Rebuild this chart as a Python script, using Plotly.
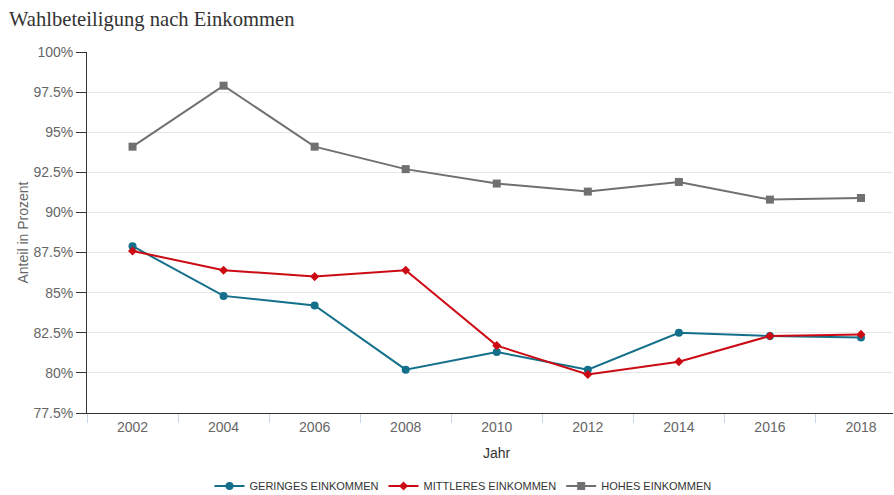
import plotly.graph_objects as go

years = [2002, 2004, 2006, 2008, 2010, 2012, 2014, 2016, 2018]
geringes = [87.9, 84.8, 84.2, 80.2, 81.3, 80.2, 82.5, 82.3, 82.2]
mittleres = [87.6, 86.4, 86.0, 86.4, 81.7, 79.9, 80.7, 82.3, 82.4]
hohes = [94.1, 97.9, 94.1, 92.7, 91.8, 91.3, 91.9, 90.8, 90.9]

series_names = ["GERINGES EINKOMMEN", "MITTLERES EINKOMMEN", "HOHES EINKOMMEN"]
y_ticks = [77.5, 80, 82.5, 85, 87.5, 90, 92.5, 95, 97.5, 100]
y_ticktext = ["77.5%", "80%", "82.5%", "85%", "87.5%", "90%", "92.5%", "95%", "97.5%", "100%"]

fig = go.Figure()
styles = [
    ("#14708a", "circle", 8),
    ("#cc0a14", "diamond", 7),
    ("#707070", "square", 8),
]
for name, vals, (col, sym, sz) in zip(series_names, [geringes, mittleres, hohes], styles):
    fig.add_trace(go.Scatter(
        x=years, y=vals, name=name, mode="lines+markers",
        line=dict(color=col, width=2),
        marker=dict(color=col, symbol=sym, size=sz),
    ))

fig.update_layout(
    width=894, height=495,
    margin=dict(l=87, r=1, t=52, b=82, autoexpand=False),
    paper_bgcolor="white", plot_bgcolor="white",
    font=dict(family="Liberation Sans, Arial, sans-serif", color="#666666", size=14),
    title=dict(text="Wahlbeteiligung nach Einkommen",
               font=dict(family="Liberation Serif, Times New Roman, serif", size=20.6, color="#333333"),
               xref="container", x=9/894, xanchor="left",
               yref="container", y=1 - 19/495, yanchor="middle"),
    showlegend=True,
    legend=dict(orientation="h", xref="paper", x=(463 - 87) / 806, xanchor="center",
                yref="paper", y=-73/361, yanchor="middle",
                font=dict(size=11, color="#333333"), itemwidth=30),
    xaxis=dict(
        range=[2001, 2018 + 32/45.5], automargin=False,
        tickmode="array", tickvals=years, ticktext=[str(y) for y in years],
        ticks="outside", ticklen=1, tickcolor="rgba(0,0,0,0)",
        showgrid=False, zeroline=False,
        showline=True, linecolor="#333333", linewidth=1,
        minor=dict(ticks="outside", tick0=2001, dtick=2, ticklen=9, tickcolor="#ccd6eb", showgrid=False),
        tickfont=dict(size=14, color="#666666"),
    ),
    yaxis=dict(
        range=[77.5, 100], automargin=False,
        tickmode="array", tickvals=y_ticks, ticktext=y_ticktext,
        ticks="outside", ticklen=10, tickcolor="#333333",
        showgrid=True, gridcolor="#e6e6e6", zeroline=False,
        showline=True, linecolor="#333333", linewidth=1,
        tickfont=dict(size=14, color="#666666"),
    ),
)
fig.add_annotation(text="Jahr", xref="x", x=2010, yref="paper", y=0, yanchor="middle",
                   yshift=-40, showarrow=False, font=dict(size=14, color="#333333"))
fig.add_annotation(text="Anteil in Prozent", xref="paper", x=0, xanchor="center", xshift=-65,
                   yref="paper", y=0.5, yanchor="middle", textangle=-90,
                   showarrow=False, font=dict(size=14, color="#666666"))

fig.write_html("out.html", config={"displayModeBar": False},
               post_script="document.body.style.margin='0';")
